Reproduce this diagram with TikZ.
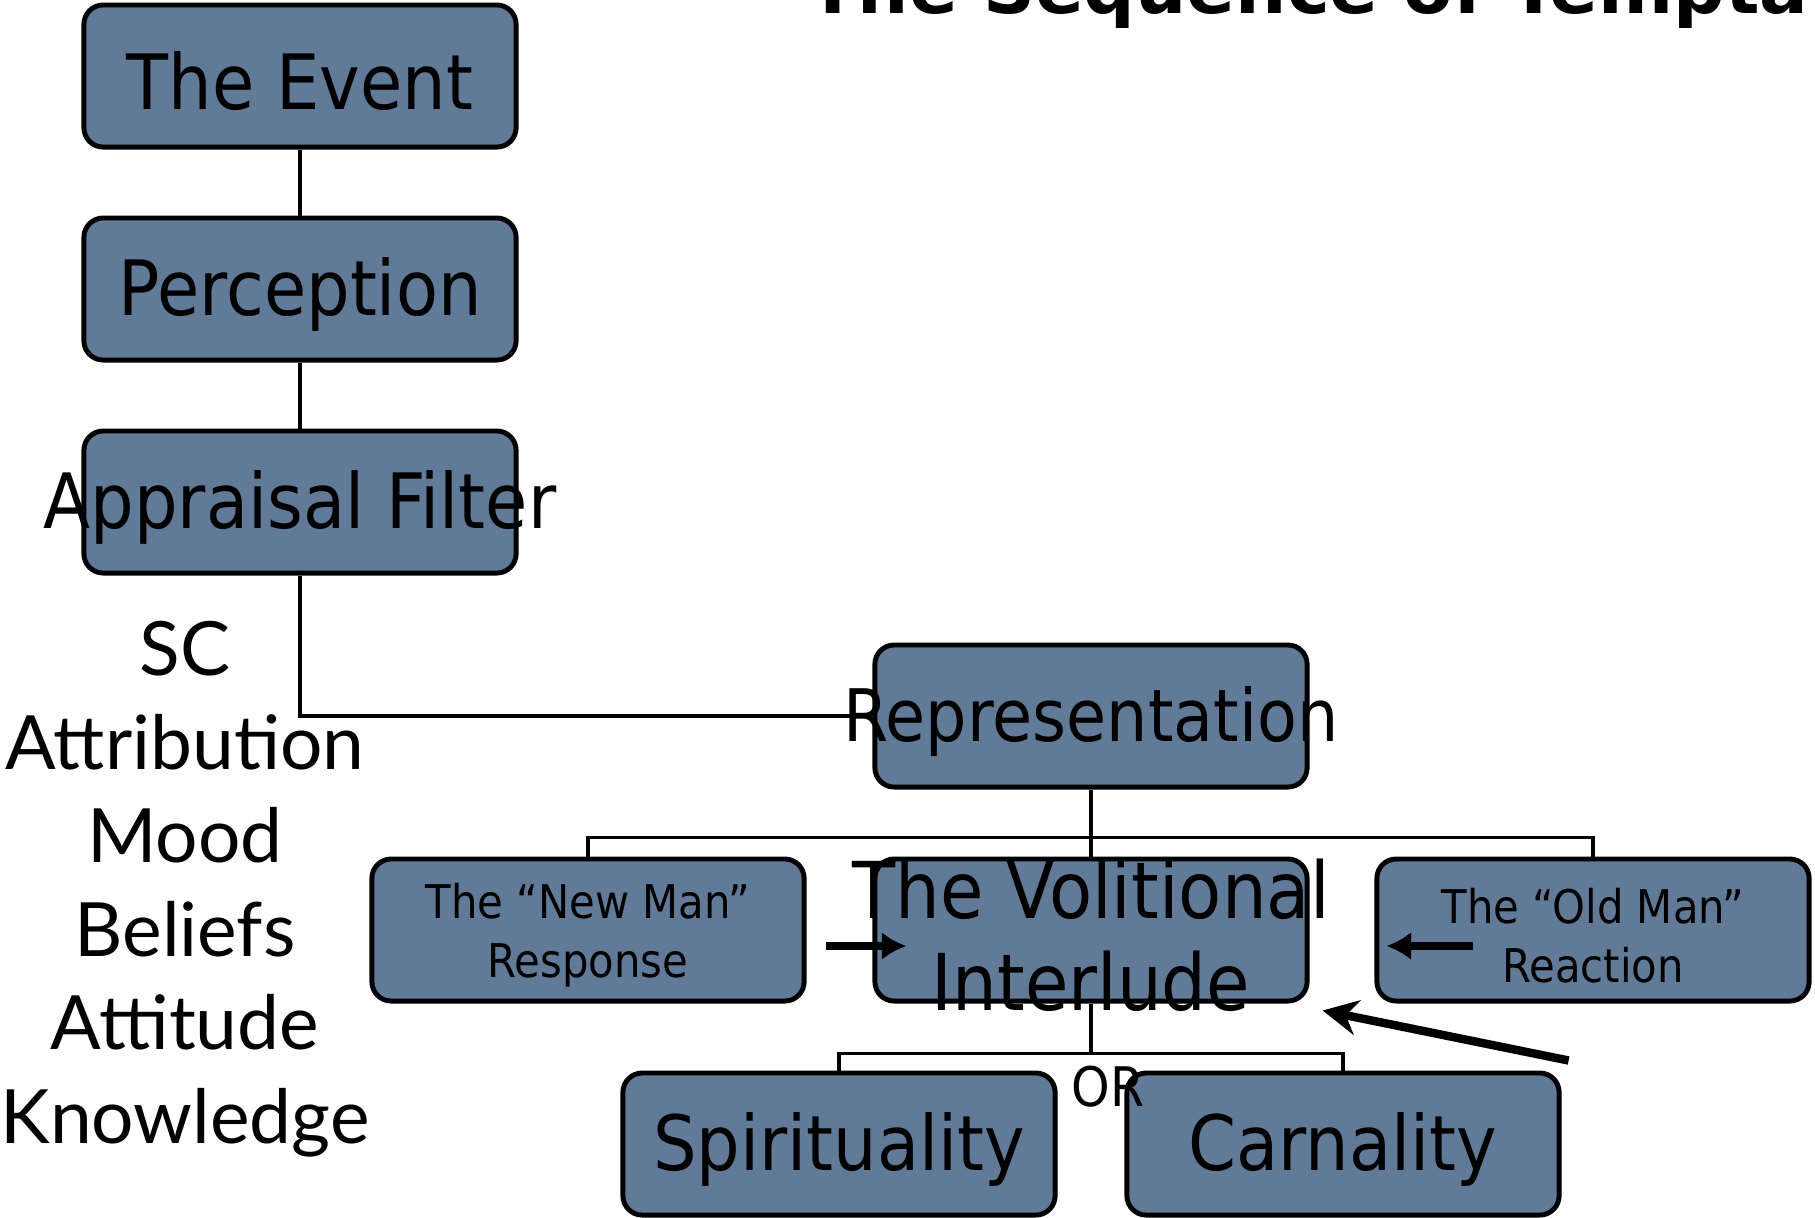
\documentclass[tikz,border=0pt]{standalone}
\usepackage{fontspec}
\setmainfont{DejaVu Sans}[FakeStretch=0.9]
\newfontfamily\titlefont{DejaVu Sans}
\newfontfamily\listfont{Lato}
\usetikzlibrary{arrows.meta,positioning,calc}
\definecolor{slate}{RGB}{97,122,151}
\tikzset{
    >={Latex[length=7pt,width=8pt]},
    every picture/.style={line width=1.1pt},
    stepbox/.style={rectangle,draw,rounded corners=5.5pt,line width=1.4pt,fill=slate,
        minimum width=4.32cm,minimum height=1.42cm,inner sep=0pt},
    bigtext/.style={font=\fontsize{21.7}{26}\selectfont,align=center,yshift=-1.5pt},
    smalltext/.style={font=\fontsize{13.2}{16.8}\selectfont,align=center,yshift=-1.5pt},
    fat/.style={line width=2.4pt,->}
}

\begin{document}
\begin{tikzpicture}[x=0.01cm,y=-0.01cm]
    \useasboundingbox (0,0) rectangle (1815,1217);
    \clip (0,0) rectangle (1815,1217);

    % Title, cut at the top
    \node[anchor=base west,font=\titlefont\fontsize{20.5}{24}\selectfont\bfseries] (title) at (795,13)
        {The Sequence of Temptation};

    % Left column
    \node[stepbox,label={[bigtext]center:The Event}] (event) at (300,76) {};
    \node[stepbox,label={[bigtext]center:Perception}] (percep) at (300,289) {};
    \node[stepbox,label={[bigtext]center:Appraisal Filter}] (apprais) at (300,502) {};
    \node[font=\listfont\fontsize{21.3}{26.6}\selectfont,align=center] (factors) at (185,889)
        {SC\\Attribution\\Mood\\Beliefs\\Attitude\\Knowledge};

    % Middle
    \node[stepbox,label={[bigtext,font=\fontsize{20.6}{26}\selectfont]center:Representation}] (rep) at (1091,716) {};
    \node[stepbox,label={[smalltext]center:{The “New Man”\\Response}}] (newman) at (588,930) {};
    \node[stepbox,label={[bigtext,font=\fontsize{22.3}{26}\selectfont]center:{The Volitional\\Interlude}}] (vol) at (1091,930) {};
    \node[stepbox,label={[smalltext]center:{The “Old Man”\\Reaction}}] (oldman) at (1593,930) {};

    % Bottom
    \node[stepbox,label={[bigtext]center:Spirituality}] (spirit) at (839,1144) {};
    \node[stepbox,label={[bigtext]center:Carnality}] (carnal) at (1343,1144) {};
    \node[font=\fontsize{15.5}{18}\selectfont] (ortext) at (1108,1087) {OR};

    % Links
    \draw (event) -- (percep);
    \draw (percep) -- (apprais);
    \draw (apprais.south) |- (rep.west);
    \coordinate (repfork) at ($(rep.south)+(0,48)$);
    \draw (rep.south) -- (repfork) -- (vol.north);
    \draw (newman.north) |- (repfork) -| (oldman.north);
    \coordinate (volfork) at ($(vol.south)+(0,50)$);
    \draw (vol.south) -- (volfork);
    \draw (spirit.north) |- (volfork) -| (carnal.north);

    % Arrows
    \draw[fat] ($(newman.east)+(19,16)$) -- ($(vol.west)+(34,16)$);
    \draw[fat] ($(oldman.west)+(99,16)$) -- ($(oldman.west)+(12,16)$);
    \draw[line width=2.4pt,-{Stealth[length=10pt,width=10pt]}]
        ($(carnal.north east)+(7,-10)$) -- ($(vol.south east)+(13,7)$);
\end{tikzpicture}
\end{document}
